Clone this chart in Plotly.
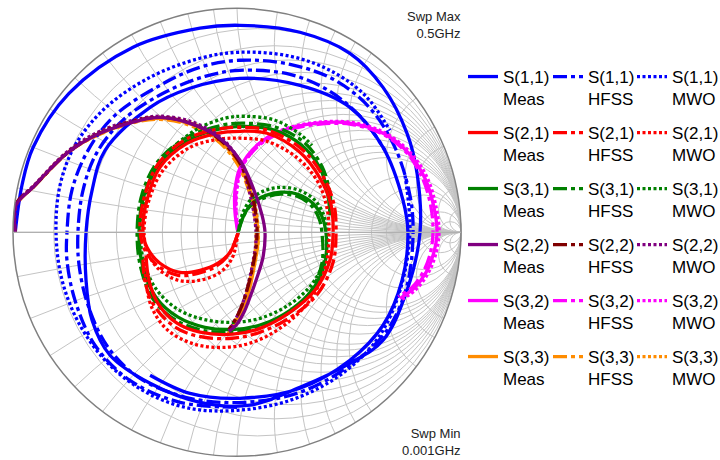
import numpy as np
import plotly.graph_objects as go

# ---------------- data: reflection coefficients (Re, Im) ----------------
S11_MEAS = [(-0.99, 0.0), (-0.96, 0.21), (-0.91, 0.38), (-0.75, 0.62), (-0.464, 0.826), (-0.165, 0.911),
            (0.013, 0.924), (0.281, 0.893), (0.504, 0.799), (0.652, 0.647), (0.759, 0.442), (0.804, 0.263),
            (0.817, 0.0), (0.759, -0.259), (0.652, -0.482), (0.504, -0.585), (0.281, -0.692), (0.058, -0.772),
            (-0.165, -0.759), (-0.388, -0.674), (-0.567, -0.549), (-0.647, -0.393), (-0.674, -0.214),
            (-0.674, 0.0), (-0.647, 0.1875), (-0.589, 0.366), (-0.388, 0.558), (-0.210, 0.643), (0.013, 0.687),
            (0.281, 0.656), (0.504, 0.558), (0.652, 0.379), (0.741, 0.143), (0.763, 0.0), (0.737, -0.214),
            (0.652, -0.415), (0.504, -0.571), (0.281, -0.696), (0.013, -0.741), (-0.210, -0.719), (-0.388, -0.638)]
S11_HFSS = [(0.0, -0.781), (-0.254, -0.759), (-0.478, -0.661), (-0.634, -0.504), (-0.723, -0.304), (-0.759, -0.125),
            (-0.759, 0.0), (-0.737, 0.1875), (-0.665, 0.366), (-0.545, 0.522), (-0.344, 0.656), (-0.165, 0.737),
            (0.013, 0.768), (0.237, 0.750), (0.4375, 0.679), (0.594, 0.554), (0.705, 0.379), (0.772, 0.165),
            (0.786, 0.0), (0.759, -0.237), (0.670, -0.4375), (0.504, -0.594), (0.281, -0.714), (0.036, -0.759),
            (-0.210, -0.741), (-0.433, -0.652), (-0.576, -0.513), (-0.665, -0.326), (-0.705, -0.147), (-0.710, 0.0),
            (-0.6875, 0.1875), (-0.625, 0.357), (-0.5, 0.509), (-0.321, 0.625), (-0.143, 0.696), (0.013, 0.723),
            (0.237, 0.705), (0.415, 0.629), (0.558, 0.509), (0.661, 0.366)]
S11_MWO = [(0.75, 0.254), (0.772, 0.0), (0.728, -0.259), (0.629, -0.473), (0.460, -0.638), (0.237, -0.750),
           (0.0, -0.795), (-0.210, -0.786), (-0.397, -0.719), (-0.567, -0.594), (-0.701, -0.415), (-0.781, -0.214),
           (-0.808, 0.0), (-0.790, 0.210), (-0.723, 0.388), (-0.589, 0.554), (-0.388, 0.692), (-0.165, 0.777),
           (0.013, 0.804), (0.237, 0.786), (0.415, 0.723), (0.571, 0.612), (0.683, 0.455)]

S21_MEAS = [(0.004, -0.004), (-0.031, -0.089), (-0.085, -0.138), (-0.165, -0.170), (-0.254, -0.179), (-0.344, -0.138),
            (-0.402, -0.067), (-0.420, 0.009), (-0.402, 0.143), (-0.344, 0.290), (-0.223, 0.397), (-0.089, 0.442),
            (0.013, 0.451), (0.134, 0.442), (0.281, 0.357), (0.371, 0.241), (0.420, 0.121), (0.429, 0.0),
            (0.415, -0.125), (0.348, -0.259), (0.237, -0.357), (0.103, -0.429), (-0.018, -0.455), (-0.165, -0.446),
            (-0.268, -0.406), (-0.353, -0.317), (-0.393, -0.214), (-0.406, -0.103)]
S21_HFSS = [(0.004, -0.004), (-0.036, -0.098), (-0.094, -0.152), (-0.174, -0.183), (-0.263, -0.192), (-0.357, -0.147),
            (-0.415, -0.071), (-0.433, 0.009), (-0.415, 0.152), (-0.353, 0.304), (-0.228, 0.415), (-0.089, 0.460),
            (0.013, 0.469), (0.138, 0.455), (0.290, 0.371), (0.384, 0.250), (0.433, 0.125), (0.442, 0.0),
            (0.429, -0.134), (0.362, -0.272), (0.246, -0.375), (0.103, -0.446), (-0.022, -0.473), (-0.174, -0.464),
            (-0.281, -0.420), (-0.371, -0.326), (-0.411, -0.219), (-0.420, -0.107)]
S21_MWO = [(0.004, -0.004), (-0.022, -0.116), (-0.076, -0.179), (-0.165, -0.214), (-0.263, -0.214), (-0.353, -0.161),
           (-0.402, -0.080), (-0.415, 0.009), (-0.393, 0.143), (-0.330, 0.277), (-0.210, 0.379), (-0.085, 0.415),
           (0.013, 0.420), (0.134, 0.406), (0.272, 0.330), (0.362, 0.223), (0.402, 0.107), (0.411, -0.013),
           (0.397, -0.147), (0.335, -0.290), (0.228, -0.402), (0.094, -0.482), (-0.040, -0.513), (-0.1875, -0.5),
           (-0.308, -0.438), (-0.379, -0.339), (-0.406, -0.223), (-0.411, -0.116)]

S31_MEAS = [(0.004, -0.004), (0.031, 0.076), (0.067, 0.129), (0.129, 0.165), (0.196, 0.179), (0.272, 0.170),
            (0.339, 0.129), (0.379, 0.071), (0.397, 0.0), (0.393, -0.134), (0.335, -0.259), (0.237, -0.348),
            (0.112, -0.411), (-0.009, -0.433), (-0.143, -0.424), (-0.263, -0.379), (-0.362, -0.290), (-0.420, -0.156),
            (-0.4375, 0.0), (-0.415, 0.165), (-0.344, 0.308), (-0.219, 0.411), (-0.067, 0.464), (0.036, 0.473),
            (0.170, 0.455), (0.290, 0.388), (0.371, 0.286), (0.406, 0.165), (0.415, 0.076)]
S31_HFSS = [(0.004, -0.004), (0.027, 0.067), (0.0625, 0.121), (0.129, 0.156), (0.196, 0.170), (0.268, 0.161),
            (0.330, 0.121), (0.366, 0.0625), (0.379, 0.0), (0.379, -0.138), (0.326, -0.268), (0.228, -0.362),
            (0.103, -0.424), (-0.018, -0.446), (-0.152, -0.438), (-0.272, -0.393), (-0.371, -0.304), (-0.429, -0.161),
            (-0.446, 0.0), (-0.424, 0.170), (-0.353, 0.317), (-0.223, 0.424), (-0.067, 0.478), (0.036, 0.487),
            (0.174, 0.469), (0.299, 0.402), (0.379, 0.295), (0.415, 0.174), (0.420, 0.076)]
S31_MWO = [(0.004, -0.004), (0.027, 0.089), (0.067, 0.152), (0.129, 0.188), (0.196, 0.201), (0.277, 0.1875),
           (0.344, 0.147), (0.384, 0.085), (0.402, 0.009), (0.393, -0.116), (0.330, -0.237), (0.228, -0.326),
           (0.103, -0.384), (-0.022, -0.402), (-0.152, -0.388), (-0.272, -0.339), (-0.366, -0.246), (-0.420, -0.116),
           (-0.429, 0.031), (-0.397, 0.196), (-0.317, 0.344), (-0.1875, 0.455), (-0.054, 0.509), (0.036, 0.518),
           (0.170, 0.5), (0.281, 0.438), (0.335, 0.388)]

S22_MEAS = [(-0.99, 0.0), (-0.987, 0.121), (-0.911, 0.201), (-0.759, 0.353), (-0.612, 0.442), (-0.433, 0.500),
            (-0.344, 0.513), (-0.223, 0.491), (-0.089, 0.429), (0.013, 0.322), (0.071, 0.201), (0.112, 0.076),
            (0.125, 0.0), (0.116, -0.112), (0.085, -0.214), (0.058, -0.290), (0.031, -0.357), (-0.004, -0.415),
            (-0.036, -0.442)]
S22_HFSS = [(-0.99, 0.0), (-0.987, 0.125), (-0.906, 0.205), (-0.754, 0.357), (-0.607, 0.446), (-0.429, 0.504),
            (-0.339, 0.513), (-0.219, 0.491), (-0.089, 0.424), (0.004, 0.322), (0.058, 0.201), (0.085, 0.076),
            (0.089, -0.022), (0.076, -0.125), (0.054, -0.223), (0.027, -0.313), (-0.004, -0.384), (-0.036, -0.433)]
S22_MWO = [(-0.99, 0.0), (-0.982, 0.129), (-0.902, 0.214), (-0.75, 0.366), (-0.603, 0.455), (-0.424, 0.509),
           (-0.335, 0.518), (-0.210, 0.496), (-0.080, 0.429), (0.009, 0.322), (0.054, 0.1875), (0.080, 0.054),
           (0.085, -0.036), (0.071, -0.134), (0.049, -0.237), (0.022, -0.326), (-0.009, -0.393), (-0.036, -0.438)]

S32_MEAS = [(0.004, 0.0), (-0.009, 0.089), (-0.009, 0.1875), (0.013, 0.286), (0.094, 0.393), (0.205, 0.455),
            (0.357, 0.487), (0.504, 0.487), (0.652, 0.442), (0.763, 0.357), (0.839, 0.241), (0.879, 0.112),
            (0.893, 0.0), (0.879, -0.089), (0.844, -0.179), (0.790, -0.250), (0.728, -0.295)]
S32_HFSS = [(0.004, 0.0), (-0.004, 0.089), (-0.004, 0.1875), (0.018, 0.286), (0.098, 0.388), (0.210, 0.451),
            (0.362, 0.482), (0.509, 0.482), (0.652, 0.4375), (0.759, 0.353), (0.830, 0.237), (0.866, 0.112),
            (0.875, 0.0), (0.862, -0.098), (0.830, -0.179), (0.781, -0.246), (0.719, -0.286)]
S32_MWO = [(0.004, 0.0), (-0.004, 0.094), (0.0, 0.192), (0.022, 0.290), (0.103, 0.397), (0.210, 0.460),
           (0.362, 0.491), (0.509, 0.491), (0.656, 0.446), (0.768, 0.362), (0.848, 0.246), (0.888, 0.116),
           (0.902, 0.0), (0.888, -0.094), (0.853, -0.183), (0.799, -0.255), (0.737, -0.299)]

S33_MEAS = [(-0.99, 0.0), (-0.982, 0.125), (-0.906, 0.205), (-0.754, 0.357), (-0.607, 0.442), (-0.429, 0.5),
            (-0.339, 0.509), (-0.219, 0.487), (-0.089, 0.420), (0.004, 0.313), (0.058, 0.1875), (0.085, 0.076),
            (0.094, -0.036), (0.080, -0.134), (0.0625, -0.223), (0.040, -0.304), (0.004, -0.384), (-0.031, -0.446)]
S33_HFSS = [(-0.99, 0.0), (-0.987, 0.121), (-0.911, 0.201), (-0.759, 0.353), (-0.612, 0.438), (-0.433, 0.496),
            (-0.344, 0.504), (-0.223, 0.482), (-0.094, 0.415), (0.0, 0.308), (0.054, 0.183), (0.080, 0.067),
            (0.085, -0.045), (0.071, -0.143), (0.054, -0.232), (0.031, -0.313), (-0.004, -0.393), (-0.040, -0.455)]
S33_MWO = [(-0.99, 0.0), (-0.982, 0.129), (-0.902, 0.210), (-0.75, 0.362), (-0.603, 0.451), (-0.424, 0.504),
           (-0.335, 0.513), (-0.214, 0.491), (-0.085, 0.424), (0.009, 0.317), (0.063, 0.192), (0.089, 0.071),
           (0.094, -0.040), (0.080, -0.138), (0.058, -0.232), (0.031, -0.317), (-0.009, -0.402), (-0.067, -0.464)]

PARAMS = ["S(1,1)", "S(2,1)", "S(3,1)", "S(2,2)", "S(3,2)", "S(3,3)"]
SOURCES = ["Meas", "HFSS", "MWO"]
SERIES = {
    "S(1,1)": [S11_MEAS, S11_HFSS, S11_MWO],
    "S(2,1)": [S21_MEAS, S21_HFSS, S21_MWO],
    "S(3,1)": [S31_MEAS, S31_HFSS, S31_MWO],
    "S(2,2)": [S22_MEAS, S22_HFSS, S22_MWO],
    "S(3,2)": [S32_MEAS, S32_HFSS, S32_MWO],
    "S(3,3)": [S33_MEAS, S33_HFSS, S33_MWO],
}
COLORS = {
    "S(1,1)": ["#0000ff", "#0000ff", "#0000ff"],
    "S(2,1)": ["#ff0000", "#ff0000", "#ff0000"],
    "S(3,1)": ["#008000", "#008000", "#008000"],
    "S(2,2)": ["#800080", "#800000", "#800080"],
    "S(3,2)": ["#ff00ff", "#ff00ff", "#ff00ff"],
    "S(3,3)": ["#ff8c00", "#ff8c00", "#ff8c00"],
}
DASHES = ["solid", "14px,4px,4px,4px", "3px,2.5px"]
GRID_R = [0.1, 0.2, 0.3, 0.4, 0.5, 0.6, 0.7, 0.8, 0.9, 1.0, 1.2, 1.4, 1.6, 1.8, 2.0, 3.0, 4.0, 5.0, 10.0, 20.0]
GRID_X = [-v for v in GRID_R[::-1]] + [0.0] + GRID_R


def to_z(points):
    g = np.array([complex(a, b) for a, b in points])
    z = (1 + g) / (1 - g)
    return z.real, z.imag


# Layout positions below are given in on-screen pixels (page margin removed below).
W, H = 720, 460


def fx(px):
    return px / W


def fy(py):
    return 1 - py / H


fig = go.Figure()
FONT = "Liberation Sans, Arial, sans-serif"
draw_order = ["S(3,3)", "S(1,1)", "S(3,2)", "S(3,1)", "S(2,1)", "S(2,2)"]
traces = {}
for p in PARAMS:
    for k, src in enumerate(SOURCES):
        re, im = to_z(SERIES[p][k])
        traces[(p, k)] = go.Scattersmith(
            real=re, imag=im, mode="lines",
            line=dict(color=COLORS[p][k], width=3.3, dash=DASHES[k], shape="spline", smoothing=1.0),
            name=f"{p}<br>{src}", legend=["legend", "legend2", "legend3"][k],
            legendgroup=f"{p}{src}", legendrank=PARAMS.index(p) + 1,
        )
for p in draw_order:
    for k in [2, 1, 0]:
        fig.add_trace(traces[(p, k)])

axis_common = dict(showticklabels=False, ticks="", gridcolor="#c4c4c4", gridwidth=1.3)
fig.update_layout(
    width=W, height=H,
    margin=dict(l=0, r=0, t=0, b=0, autoexpand=False),
    paper_bgcolor="white",
    font=dict(family=FONT, size=17, color="#000000"),
    smith=dict(
        domain=dict(x=[fx(13), fx(461)], y=[fy(456.3), fy(8.3)]),
        bgcolor="white",
        realaxis=dict(tickvals=GRID_R, showline=True, linecolor="#b0b0b0", linewidth=1.3, **axis_common),
        imaginaryaxis=dict(tickvals=GRID_X, showline=True, linecolor="#808080", linewidth=1.5, **axis_common),
    ),
)
leg_common = dict(
    y=fy(59), yanchor="top", xanchor="left", valign="top",
    bgcolor="rgba(0,0,0,0)", font=dict(family=FONT, size=17, color="#000000"),
    traceorder="grouped", tracegroupgap=8.8, itemwidth=30,
)
fig.update_layout(
    legend=dict(x=fx(463), **leg_common),
    legend2=dict(x=fx(548), **leg_common),
    legend3=dict(x=fx(632), **leg_common),
)
fig.add_annotation(text="Swp Max<br>0.5GHz", xref="paper", yref="paper", x=fx(463), y=fy(7.5),
                   xanchor="right", yanchor="top", align="right", showarrow=False,
                   font=dict(family=FONT, size=13, color="#222222"))
fig.add_annotation(text="Swp Min<br>0.001GHz", xref="paper", yref="paper", x=fx(463), y=fy(424),
                   xanchor="right", yanchor="top", align="right", showarrow=False,
                   font=dict(family=FONT, size=13, color="#222222"))
fig.write_html("out.html", default_width="720px", default_height="460px",
               config={"displayModeBar": False},
               post_script="document.body.style.margin='0';document.body.style.overflow='hidden';")
